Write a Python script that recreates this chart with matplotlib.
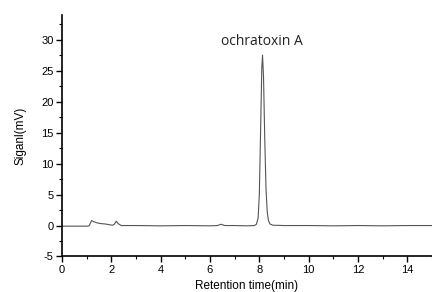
import matplotlib.pyplot as plt
from matplotlib.ticker import MultipleLocator

plt.rcParams["axes.unicode_minus"] = False

# chromatogram points
time_min = [0.0, 0.5, 1.0, 1.1, 1.2, 1.3, 1.45, 1.6, 1.75, 1.9, 2.05, 2.12, 2.2, 2.28,
            2.4, 3.0, 4.0, 5.0, 6.0, 6.3, 6.45, 6.6, 7.0, 7.5, 7.8, 7.88, 7.95,
            8.0, 8.05, 8.1, 8.13, 8.17, 8.22, 8.27, 8.32, 8.37, 8.43, 8.55, 9.0,
            10.0, 11.0, 12.0, 13.0, 14.0, 15.0]
signal_mv = [-0.1, -0.1, -0.1, -0.05, 0.8, 0.6, 0.4, 0.3, 0.25, 0.15, 0.05, 0.2, 0.7, 0.3,
             0.0, 0.0, -0.05, 0.0, -0.05, 0.0, 0.2, 0.0, 0.0, -0.05, 0.0, 0.2, 1.2,
             5.0, 15.0, 25.5, 27.5, 24.0, 14.0, 6.0, 2.2, 0.8, 0.25, 0.05, 0.0,
             0.0, -0.05, 0.0, -0.05, 0.0, 0.0]

peak_label = "ochratoxin A"
peak_label_pos = (8.1, 29.7)

fig = plt.figure(figsize=(4.32, 2.92), dpi=100)
ax = fig.add_axes([0.1435, 0.1216, 0.8565, 0.827])

ax.plot(time_min, signal_mv, color="#555555", linewidth=0.8)

ax.set_xlim(0, 15)
ax.set_ylim(-5, 34)
ax.xaxis.set_major_locator(MultipleLocator(2))
ax.xaxis.set_minor_locator(MultipleLocator(1))
ax.yaxis.set_major_locator(MultipleLocator(5))
ax.yaxis.set_minor_locator(MultipleLocator(2.5))

for side in ("top", "right"):
    ax.spines[side].set_visible(False)
for side in ("left", "bottom"):
    ax.spines[side].set_linewidth(1.2)

ax.tick_params(which="major", direction="out", length=4, width=1.0,
               labelsize=8, labelfontfamily="Liberation Sans", pad=2)
ax.tick_params(which="minor", direction="out", length=2, width=0.8)

ax.set_xlabel("Retention time(min)", fontsize=8.5, family="Liberation Sans", labelpad=4)
ax.set_ylabel("Siganl(mV)", fontsize=8.5, family="Liberation Sans", labelpad=11)

ax.text(peak_label_pos[0], peak_label_pos[1], peak_label, ha="center", va="center",
        fontsize=10, family="Open Sans", color="#222222")

fig.savefig("out.png", dpi=100)
